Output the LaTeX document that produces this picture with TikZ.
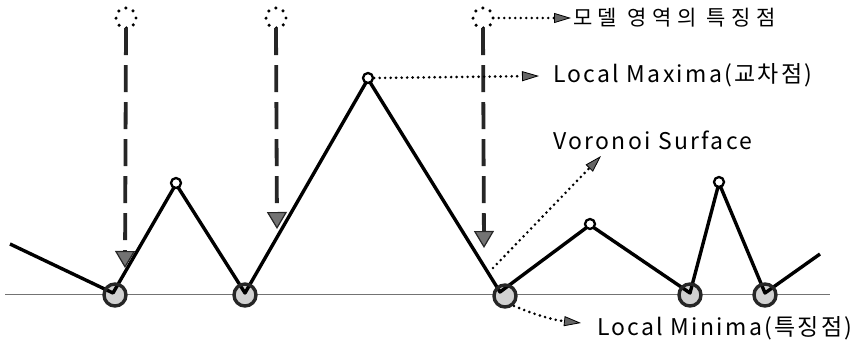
\documentclass[tikz,border=0pt]{standalone}
\usepackage{fontspec}
\usetikzlibrary{arrows.meta}
\newfontfamily\krfont{Noto Sans CJK KR}[LetterSpace=10]
\newfontfamily\krwide{Noto Sans CJK KR}[LetterSpace=26]
\begin{document}
\begin{tikzpicture}[x=1pt,y=-1pt,
  base/.style={draw=black!55,line width=1pt},
  profile/.style={draw=black,line width=3.4pt,line join=round},
  dotcirc/.style={draw=black,line width=3.4pt,dash pattern=on 0pt off 7.85pt,line cap=round},
  dasharrow/.style={draw=black!85,line width=3.8pt,dash pattern=on 27pt off 10pt,
     -{Triangle[width=20pt,length=17pt,fill=black!55,line width=1.2pt]}},
  dotarrow/.style={draw=black,line width=2.9pt,dash pattern=on 0pt off 5.5pt,line cap=round,
     -{Triangle[width=10pt,length=17pt,fill=black!60,line width=0.8pt]}},
  minfill/.style={fill=black!18},
  minring/.style={circle,draw=black!85,line width=3.4pt,minimum size=22pt,inner sep=0pt},
  maxring/.style={circle,draw=black,line width=2.3pt,fill=white,minimum size=10pt,inner sep=0pt},
  lbl/.style={anchor=west,inner sep=0pt,font=\krfont\fontsize{23}{23}\selectfont},
  lblk/.style={anchor=west,inner sep=0pt,font=\krwide\fontsize{21}{21}\selectfont}
]
\useasboundingbox (0,0) rectangle (857,343);
% baseline
\coordinate (bl) at (5,294);
\coordinate (br) at (830,294);
\draw[base] (bl) -- (br);
% profile points
\coordinate (p0) at (10,244);
\coordinate (m1) at (113,293);
\coordinate (x1) at (176,184);
\coordinate (m2) at (245,293);
\coordinate (x2) at (368,79);
\coordinate (m3) at (500,292);
\coordinate (x3) at (590,225);
\coordinate (m4) at (690,293);
\coordinate (x4) at (719,183);
\coordinate (m5) at (765,293);
\coordinate (p1) at (820,254);
% minima fills
\foreach \p in {(115,295),(245,295),(505,296),(690,295),(765,295)}
  \fill[minfill] \p circle (10pt);
\draw[profile] (p0) -- (m1) -- (x1) -- (m2) -- (x2) -- (m3) -- (x3) -- (m4) -- (x4) -- (m5) -- (p1);
% minima rings
\node[minring] (ma) at (115,295) {};
\node[minring] (mb) at (245,295) {};
\node[minring] (mc) at (505,296) {};
\node[minring] (md) at (690,295) {};
\node[minring] (me) at (765,295) {};
% maxima rings
\node[maxring] (xa) at (176,183) {};
\node[maxring] (xb) at (368,78) {};
\node[maxring] (xc) at (590,224) {};
\node[maxring] (xd) at (719,182) {};
% model feature points (dotted circles)
\node[circle,minimum size=20pt,inner sep=0pt] (fa) at (126,18) {};
\node[circle,minimum size=20pt,inner sep=0pt] (fb) at (276,18) {};
\node[circle,minimum size=20pt,inner sep=0pt] (fc) at (483,18) {};
\draw[dotcirc] (fa) circle (10pt);
\draw[dotcirc] (fb) circle (10pt);
\draw[dotcirc] (fc) circle (10pt);
% arrow tips
\coordinate (ta) at (125,268);
\coordinate (tb) at (277,229);
\coordinate (tc) at (484,248);
\draw[dasharrow] (fa.south) -- (ta);
\draw[dasharrow] (fb.south) -- (tb);
\draw[dasharrow] (fc.south) -- (tc);
% labels
\node[lblk] (lk) at (573,18) {모델 영역의 특징점};
\node[lbl] (lmax) at (553,75) {Local Maxima(교차점)};
\node[lbl] (lvor) at (553,140) {Voronoi Surface};
\node[lbl] (lmin) at (597,328) {Local Minima(특징점)};
% dotted arrows
\coordinate (ek) at (571,18);
\coordinate (emax) at (539,76);
\coordinate (svor) at (493,268);
\coordinate (evor) at (601,156);
\coordinate (smin) at (514,306);
\coordinate (emin) at (581,323);
\draw[dotarrow] (fc.east) -- (ek);
\draw[dotarrow] (xb.east) -- (emax);
\draw[dotarrow] (svor) -- (evor);
\draw[dotarrow] (smin) to[bend right=8] (emin);
\end{tikzpicture}
\end{document}
